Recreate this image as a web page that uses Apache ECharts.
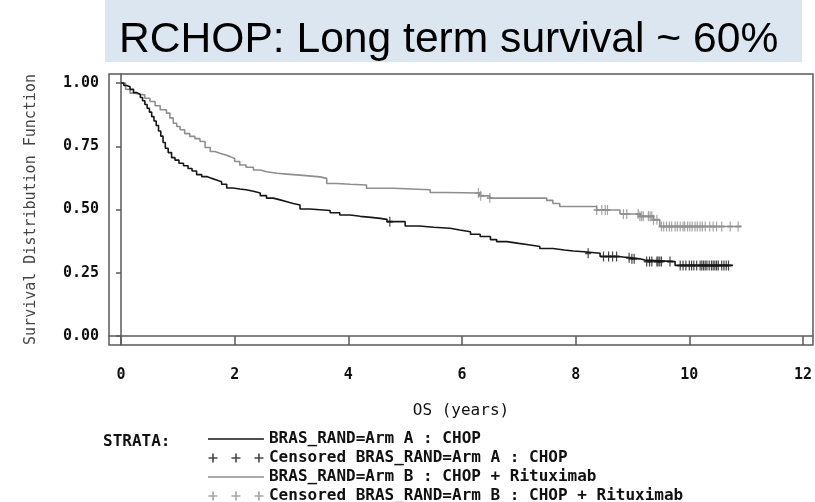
<!DOCTYPE html>
<html>
<head>
<meta charset="utf-8">
<script src="https://cdn.jsdelivr.net/npm/echarts@6/dist/echarts.min.js"></script>
<style>
  html, body { margin: 0; padding: 0; background: #fff; }
  #chart { width: 815px; height: 502px; }
</style>
</head>
<body>
<div id="chart"></div>
<script>
// Kaplan-Meier overall survival, CHOP vs CHOP + Rituximab

const titleText = 'RCHOP: Long term survival ~ 60%';
const xTicks = [0, 2, 4, 6, 8, 10, 12];
const yTicks = [0, 0.25, 0.5, 0.75, 1];

const seriesNames = [
  'BRAS_RAND=Arm A : CHOP',
  'Censored BRAS_RAND=Arm A : CHOP',
  'BRAS_RAND=Arm B : CHOP + Rituximab',
  'Censored BRAS_RAND=Arm B : CHOP + Rituximab'
];

// Arm A (CHOP): event times (years) and survival after each step
const armATime = [0, 0.05, 0.1, 0.16, 0.22, 0.28, 0.34, 0.38, 0.42, 0.46, 0.5, 0.54, 0.58, 0.62, 0.66,
  0.7, 0.74, 0.78, 0.83, 0.89, 0.95, 1.02, 1.1, 1.18, 1.25, 1.33, 1.42, 1.51, 1.6, 1.68, 1.77, 1.86,
  1.97, 2.09, 2.2, 2.33, 2.45, 2.56, 2.68, 2.8, 2.92, 3.03, 3.15, 3.32, 3.5, 3.68, 3.85, 4.03, 4.21,
  4.4, 4.56, 4.68, 5.0, 5.25, 5.5, 5.79, 5.96, 6.15, 6.32, 6.5, 6.61, 6.79, 7.0, 7.2, 7.37, 7.6, 7.8,
  7.96, 8.15, 8.43, 8.75, 8.95, 9.13, 9.22, 9.75, 10.77];
const armASurv = [1.0, 0.99, 0.985, 0.975, 0.962, 0.955, 0.943, 0.93, 0.915, 0.9, 0.885, 0.867, 0.85, 0.832, 0.81,
  0.79, 0.765, 0.742, 0.725, 0.705, 0.695, 0.683, 0.673, 0.662, 0.652, 0.638, 0.63, 0.623, 0.617, 0.61, 0.6, 0.585,
  0.581, 0.578, 0.572, 0.565, 0.555, 0.545, 0.538, 0.531, 0.524, 0.518, 0.502, 0.499, 0.496, 0.487, 0.478, 0.473, 0.469,
  0.465, 0.461, 0.452, 0.435, 0.43, 0.426, 0.419, 0.412, 0.402, 0.393, 0.381, 0.373, 0.366, 0.36, 0.354, 0.346, 0.34, 0.336,
  0.333, 0.327, 0.314, 0.309, 0.305, 0.300, 0.294, 0.279, 0.279];
// Arm A censoring times (years)
const armACensor = [4.73, 8.22, 8.49, 8.58, 8.65, 8.72, 8.94, 8.99, 9.03, 9.25, 9.30, 9.34, 9.43, 9.45, 9.48, 9.51,
  9.66, 9.84, 9.89, 9.94, 10.0, 10.04, 10.08, 10.13, 10.19, 10.22, 10.25, 10.28, 10.31, 10.35, 10.39,
  10.42, 10.45, 10.48, 10.51, 10.57, 10.61, 10.65, 10.69];

// Arm B (CHOP + Rituximab)
const armBTime = [0, 0.08, 0.16, 0.25, 0.34, 0.42, 0.51, 0.6, 0.69, 0.8, 0.86, 0.92, 0.98, 1.04, 1.12, 1.21,
  1.3, 1.39, 1.48, 1.57, 1.65, 1.74, 1.83, 1.92, 2.0, 2.09, 2.2, 2.33, 2.45, 2.56, 2.75, 2.92, 3.15, 3.5,
  3.62, 3.8, 4.03, 4.32, 4.79, 5.44, 5.7, 6.31, 6.49, 7.49, 7.6, 7.72, 8.37, 8.78, 9.13, 9.37, 9.48, 10.92];
const armBSurv = [1.0, 0.975, 0.96, 0.955, 0.953, 0.94, 0.927, 0.91, 0.894, 0.881, 0.862, 0.841, 0.828, 0.815, 0.8, 0.789,
  0.78, 0.769, 0.745, 0.729, 0.722, 0.716, 0.709, 0.702, 0.69, 0.676, 0.667, 0.656, 0.649, 0.643, 0.64, 0.636, 0.629, 0.623,
  0.603, 0.6, 0.597, 0.584, 0.578, 0.567, 0.565, 0.554, 0.545, 0.536, 0.524, 0.512, 0.498, 0.482, 0.473, 0.459, 0.433, 0.433];
const armBCensor = [6.29, 6.33, 6.49, 8.37, 8.46, 8.52, 8.56, 8.84, 8.90, 9.10, 9.13, 9.16, 9.19, 9.28, 9.31,
  9.34, 9.37, 9.43, 9.51, 9.55, 9.60, 9.65, 9.69, 9.75, 9.79, 9.84, 9.89, 9.92, 9.97, 10.01, 10.05,
  10.10, 10.14, 10.19, 10.23, 10.28, 10.36, 10.42, 10.48, 10.57, 10.72, 10.86];

// survival value of a step curve at time t
function survAt(times, surv, t) {
  let s = surv[0];
  for (let i = 0; i < times.length; i++) {
    if (times[i] <= t) s = surv[i]; else break;
  }
  return s;
}
const pairs = (a, b) => a.map((v, i) => [v, b[i]]);
const censorPoints = (c, times, surv) => c.map(t => [t, survAt(times, surv, t)]);

const BLACK = '#161616';
const GRAY = '#8e8e8e';
const FRAME = '#5a5a5a';
const MONO = '"DejaVu Sans Mono", "Liberation Mono", monospace';

// plus-shaped censor mark, plus legend glyphs (56 x 12 box)
const plusPath = 'path://M4,0h2v4h4v2h-4v4h-2v-4h-4v-2h4z';
const boxCorners = 'M0,0h0.01v0.01zM56,12h0.01v0.01z';
const triplePlus = 'path://' + [5, 28, 51].map(c =>
  `M${c - 0.8},1.5h1.6v3.7h3.7v1.6h-3.7v3.7h-1.6v-3.7h-3.7v-1.6h3.7z`).join('') + boxCorners;
const solidLine = 'path://M0,5.3h56v1.5h-56z' + boxCorners;

const chart = echarts.init(document.getElementById('chart'), null, { renderer: 'canvas' });

chart.setOption({
  backgroundColor: '#fff',
  animation: false,
  title: {
    text: titleText,
    left: 114,
    top: 14,
    textStyle: { fontFamily: '"Liberation Sans", Arial, sans-serif', fontSize: 42.6, fontWeight: 'normal', color: '#000' }
  },
  graphic: [
    { type: 'rect', z: -10, shape: { x: 105, y: 0, width: 697, height: 62 }, style: { fill: '#dce6f1' } },
    { type: 'text', left: 103, top: 434, style: { text: 'STRATA:', font: 'bold 16px ' + MONO, fill: '#111' } }
  ],
  legend: {
    orient: 'vertical',
    left: 208,
    top: 431,
    width: 600,
    height: 120,
    padding: 0,
    itemWidth: 56,
    itemHeight: 12,
    itemGap: 3,
    selectedMode: false,
    textStyle: { fontFamily: MONO, fontSize: 16, fontWeight: 'bold', color: '#111', lineHeight: 14 },
    data: [
      { name: seriesNames[0], icon: solidLine },
      { name: seriesNames[1], icon: triplePlus },
      { name: seriesNames[2], icon: solidLine },
      { name: seriesNames[3], icon: triplePlus }
    ]
  },
  grid: {
    left: 109, top: 74, right: 2, bottom: 157,
    show: true, borderColor: FRAME, borderWidth: 1.5, backgroundColor: '#fff'
  },
  xAxis: {
    type: 'value',
    min: -0.2111, max: 12.176,
    name: 'OS (years)',
    nameLocation: 'middle',
    nameGap: 58,
    nameTextStyle: { fontFamily: MONO, fontSize: 16, color: '#111' },
    splitLine: { show: false },
    axisLine: { show: true, lineStyle: { color: FRAME, width: 1.5 } },
    axisTick: { show: true, length: 9, customValues: xTicks, lineStyle: { color: FRAME, width: 1.5 } },
    axisLabel: { customValues: xTicks, margin: 23, fontFamily: MONO, fontSize: 15, fontWeight: 'bold', color: '#111' }
  },
  yAxis: {
    type: 'value',
    min: -0.0356, max: 1.0356,
    name: 'Survival Distribution Function',
    nameLocation: 'middle',
    nameGap: 70,
    nameTextStyle: { fontFamily: MONO, fontSize: 15, color: '#444' },
    splitLine: { show: false },
    axisLine: { show: true, lineStyle: { color: FRAME, width: 1.5 } },
    axisTick: { show: true, length: 5, customValues: yTicks, lineStyle: { color: FRAME, width: 1.5 } },
    axisLabel: {
      customValues: yTicks, margin: 10, fontFamily: MONO, fontSize: 15, fontWeight: 'bold', color: '#111',
      formatter: v => v.toFixed(2)
    }
  },
  series: [
    {
      name: seriesNames[0], type: 'line', step: 'end', symbol: 'none',
      lineStyle: { color: BLACK, width: 1.6 }, itemStyle: { color: BLACK },
      data: pairs(armATime, armASurv), z: 3
    },
    {
      name: seriesNames[1], type: 'scatter', symbol: plusPath, symbolSize: [6, 10],
      itemStyle: { color: BLACK }, data: censorPoints(armACensor, armATime, armASurv), z: 4
    },
    {
      name: seriesNames[2], type: 'line', step: 'end', symbol: 'none',
      lineStyle: { color: GRAY, width: 1.6 }, itemStyle: { color: GRAY },
      data: pairs(armBTime, armBSurv), z: 2
    },
    {
      name: seriesNames[3], type: 'scatter', symbol: plusPath, symbolSize: [6, 10],
      itemStyle: { color: GRAY }, data: censorPoints(armBCensor, armBTime, armBSurv), z: 2
    }
  ]
});
</script>
</body>
</html>
